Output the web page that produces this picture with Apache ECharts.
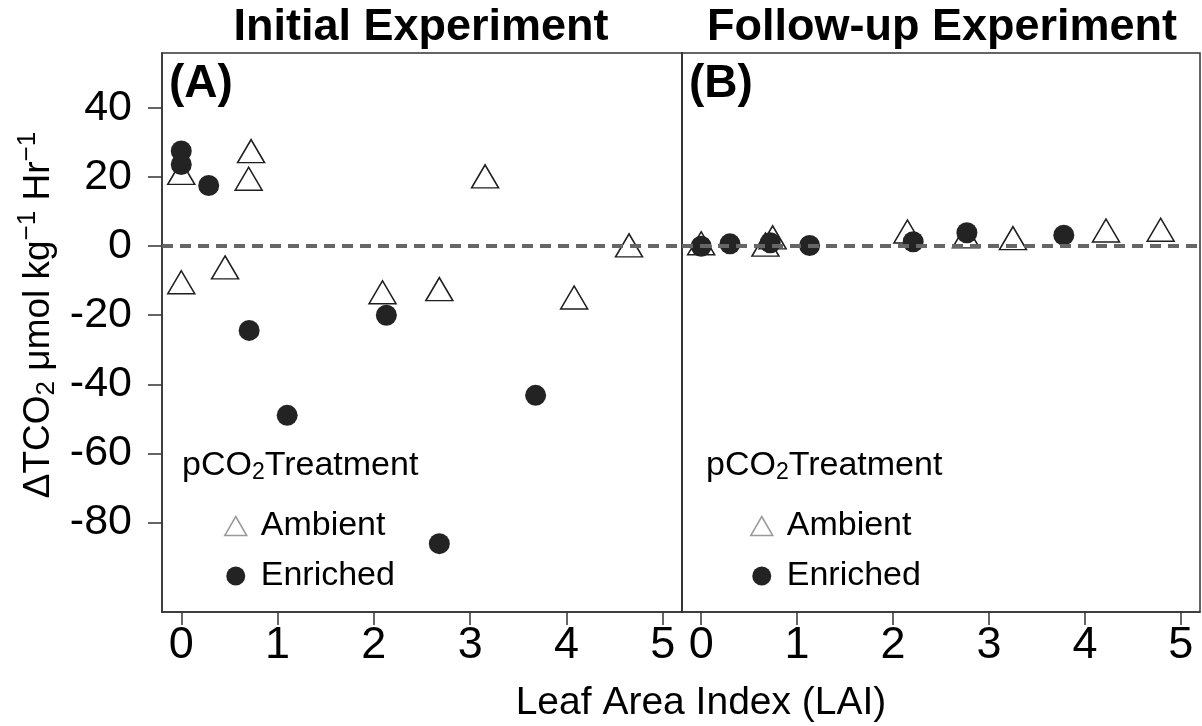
<!DOCTYPE html>
<html>
<head>
<meta charset="utf-8">
<script src="https://cdn.jsdelivr.net/npm/echarts@6/dist/echarts.min.js"></script>
<style>
html,body{margin:0;padding:0;background:#fff;}
#chart{width:1202px;height:726px;}
</style>
</head>
<body>
<div id="chart"></div>
<script>
// ---- data (LAI, ΔTCO2) ----
var initAmbientX = [0.00, 0.00, 0.455, 0.70, 0.725, 2.09, 2.68, 3.155, 4.08, 4.65];
var initAmbientY = [20.1, -11.6, -7.3, 18.4, 26.4, -14.5, -13.6, 19.1, -16.0, -0.9];
var initEnrichedX = [0.00, 0.00, 0.285, 0.705, 1.10, 2.13, 2.68, 3.68];
var initEnrichedY = [27.6, 23.7, 17.6, -24.4, -49.0, -20.0, -86.2, -43.2];
var followAmbientX = [0.00, 0.67, 0.745, 2.15, 2.76, 3.25, 4.22, 4.79];
var followAmbientY = [-0.3, -0.7, 1.4, 3.1, 1.7, 1.2, 3.4, 3.6];
var followEnrichedX = [0.00, 0.30, 0.72, 1.13, 2.21, 2.77, 3.78];
var followEnrichedY = [0.0, 0.7, 1.0, 0.2, 1.3, 3.9, 3.2];
var xTicks = [0, 1, 2, 3, 4, 5];
var yTicks = [-80, -60, -40, -20, 0, 20, 40];
var panelTitles = ['Initial Experiment', 'Follow-up Experiment'];
var panelTags = ['(A)', '(B)'];
var seriesNames = ['Ambient', 'Enriched'];

function pairs(xs, ys) { return xs.map(function (x, i) { return [x, ys[i]]; }); }

var FONT = '"Liberation Sans", Arial, Helvetica, sans-serif';
var chart = echarts.init(document.getElementById('chart'), null, {renderer: 'canvas'});

var triStyle = {color: 'transparent', borderColor: '#1e1e1e', borderWidth: 1.5, opacity: 1};
var dotStyle = {color: '#232323', opacity: 1};
var zeroLine = {
  silent: true, symbol: ['none', 'none'], animation: false,
  label: {show: false},
  lineStyle: {type: [11, 7], width: 4, color: '#666', opacity: 1},
  emphasis: {disabled: true},
  data: [{yAxis: 0}]
};

function xAxisFor(i) {
  return {
    type: 'value', gridIndex: i, min: -0.2, max: 5.2,
    axisLine: {show: true, onZero: false, lineStyle: {color: '#333', width: 1.5}},
    splitLine: {show: false},
    axisTick: {show: true, length: 13, customValues: xTicks, lineStyle: {color: '#333', width: 1.5}},
    axisLabel: {customValues: xTicks, fontSize: 45, color: '#000', fontFamily: FONT, margin: 11}
  };
}
function yAxisFor(i) {
  return {
    type: 'value', gridIndex: i, min: -106, max: 56,
    axisLine: {show: true, onZero: false, lineStyle: {color: '#333', width: 1.5}},
    splitLine: {show: false},
    axisTick: {show: i === 0, length: 14, customValues: yTicks, lineStyle: {color: '#333', width: 1.5}},
    axisLabel: {show: i === 0, customValues: yTicks, fontSize: 43, color: '#000', fontFamily: FONT, margin: 30}
  };
}
function legendFor(left) {
  return {
    orient: 'vertical', left: left, top: 504,
    itemWidth: 22, itemHeight: 19, itemGap: 16,
    selectedMode: false,
    textStyle: {fontSize: 34, color: '#000', fontFamily: FONT, padding: [0, 0, 0, 9], lineHeight: 34},
    data: [
      {name: seriesNames[0], icon: 'triangle', itemStyle: {color: 'transparent', borderColor: '#999', borderWidth: 1.5}},
      {name: seriesNames[1], icon: 'circle', itemStyle: {color: '#232323', borderWidth: 0}}
    ]
  };
}

var richSub = {
  n: {fontSize: 34, fontFamily: FONT, color: '#000', lineHeight: 40},
  s: {fontSize: 23, fontFamily: FONT, color: '#000', lineHeight: 40, padding: [14, 0, 0, 0]}
};

var option = {
  animation: false,
  backgroundColor: '#fff',
  grid: [
    {left: 162, top: 53, width: 520, height: 559, show: true, borderColor: '#333', borderWidth: 1.5, backgroundColor: 'transparent'},
    {left: 682, top: 53, width: 518, height: 559, show: true, borderColor: '#333', borderWidth: 1.5, backgroundColor: 'transparent'}
  ],
  xAxis: [xAxisFor(0), xAxisFor(1)],
  yAxis: [yAxisFor(0), yAxisFor(1)],
  legend: [legendFor(219), legendFor(745)],
  series: [
    {name: seriesNames[0], type: 'scatter', xAxisIndex: 0, yAxisIndex: 0, symbol: 'triangle', symbolSize: [27, 23], symbolOffset: [0, -4],
     itemStyle: triStyle, data: pairs(initAmbientX, initAmbientY), markLine: zeroLine, z: 2},
    {name: seriesNames[1], type: 'scatter', xAxisIndex: 0, yAxisIndex: 0, symbol: 'circle', symbolSize: 21,
     itemStyle: dotStyle, data: pairs(initEnrichedX, initEnrichedY), z: 3},
    {name: seriesNames[0], type: 'scatter', xAxisIndex: 1, yAxisIndex: 1, symbol: 'triangle', symbolSize: [27, 23], symbolOffset: [0, -4],
     itemStyle: triStyle, data: pairs(followAmbientX, followAmbientY), markLine: zeroLine, z: 2},
    {name: seriesNames[1], type: 'scatter', xAxisIndex: 1, yAxisIndex: 1, symbol: 'circle', symbolSize: 21,
     itemStyle: dotStyle, data: pairs(followEnrichedX, followEnrichedY), z: 3}
  ],
  graphic: [
    {type: 'text', style: {text: panelTitles[0], x: 421, y: 28, align: 'center', verticalAlign: 'middle', font: 'bold 45px ' + FONT, fill: '#000'}},
    {type: 'text', style: {text: panelTitles[1], x: 942, y: 28, align: 'center', verticalAlign: 'middle', font: 'bold 45px ' + FONT, fill: '#000'}},
    {type: 'text', style: {text: panelTags[0], x: 169, y: 84, align: 'left', verticalAlign: 'middle', font: 'bold 46px ' + FONT, fill: '#000'}},
    {type: 'text', style: {text: panelTags[1], x: 689, y: 84, align: 'left', verticalAlign: 'middle', font: 'bold 46px ' + FONT, fill: '#000'}},
    {type: 'text', style: {text: '{n|pCO}{s|2}{n|Treatment}', x: 182, y: 466, align: 'left', verticalAlign: 'middle', rich: richSub}},
    {type: 'text', style: {text: '{n|pCO}{s|2}{n|Treatment}', x: 706, y: 466, align: 'left', verticalAlign: 'middle', rich: richSub}},
    {type: 'text', style: {text: 'Leaf Area Index (LAI)', x: 701, y: 703, align: 'center', verticalAlign: 'middle', font: '39px ' + FONT, fill: '#000'}},
    {type: 'text', x: 39, y: 315, rotation: Math.PI / 2,
     style: {text: '{n|ΔTCO}{sub|2}{n| μmol kg}{sup|−1}{n| Hr}{sup|−1}', x: 0, y: 0, align: 'center', verticalAlign: 'middle',
       rich: {
         n: {fontSize: 37, fontFamily: FONT, color: '#000', lineHeight: 44},
         sub: {fontSize: 26, fontFamily: FONT, color: '#000', lineHeight: 44, padding: [16, 0, 0, 0]},
         sup: {fontSize: 26, fontFamily: FONT, color: '#000', lineHeight: 44, padding: [0, 0, 22, 0]}
       }}}
  ]
};
chart.setOption(option);
</script>
</body>
</html>
